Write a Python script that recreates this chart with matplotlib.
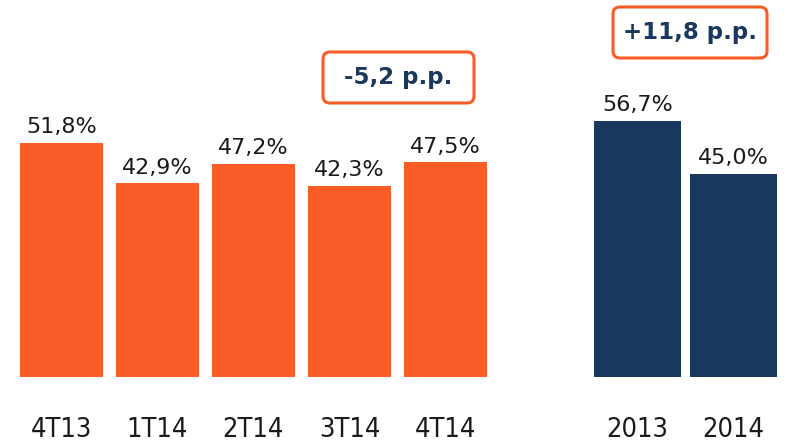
import matplotlib
matplotlib.use("Agg")
import matplotlib.pyplot as plt
from matplotlib.patches import FancyBboxPatch

quarters = ["4T13", "1T14", "2T14", "3T14", "4T14"]
quarter_values = [51.8, 42.9, 47.2, 42.3, 47.5]
years = ["2013", "2014"]
year_values = [56.7, 45.0]
quarter_delta = "-5,2 p.p."
year_delta = "+11,8 p.p."

ORANGE = "#F95C27"
NAVY = "#1A375E"


def main():
    fig = plt.figure(figsize=(7.9, 4.46), dpi=100)
    ax = fig.add_axes([0, 0, 1, 1])

    q_pos = list(range(len(quarters)))
    y_pos = [len(quarters) + 1 + i for i in range(len(years))]

    ax.bar(q_pos, quarter_values, width=0.87, color=ORANGE)
    ax.bar(y_pos, year_values, width=0.9, color=NAVY)

    for x, v in zip(q_pos + y_pos, quarter_values + year_values):
        ax.text(x, v + 3.4, f"{v:.1f}%".replace(".", ","), ha="center",
                va="center", fontsize=16, color="#1a1a1a")

    for x, lab in zip(q_pos + y_pos, quarters + years):
        ax.text(x, -11.8, lab, ha="center", va="center", fontsize=19.5,
                family="DejaVu Sans", stretch="condensed", color="#1a1a1a")

    ax.set_xlim(-0.64, 7.59)
    ax.set_ylim(-15.27, 83.4)
    ax.axis("off")

    # annotation boxes, placed in inches
    for (x0, y0, w, h), txt in [((3.23, 3.43, 1.51, 0.51), quarter_delta),
                                ((6.13, 3.88, 1.54, 0.51), year_delta)]:
        box = FancyBboxPatch((x0, y0), w, h,
                             boxstyle="round,pad=0,rounding_size=0.07",
                             transform=fig.dpi_scale_trans, facecolor="white",
                             edgecolor=ORANGE, linewidth=2.2)
        fig.add_artist(box)
        fig.text((x0 + w / 2) / 7.9, (y0 + h / 2) / 4.46, txt, ha="center",
                 va="center", fontsize=16.5, fontweight="bold", color=NAVY)

    fig.savefig("out.png", dpi=100)


if __name__ == "__main__":
    main()
